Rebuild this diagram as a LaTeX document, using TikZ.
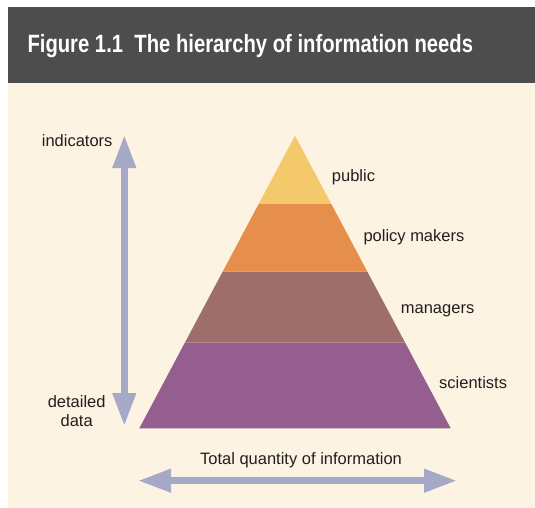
\documentclass[tikz,border=0pt]{standalone}
\usepackage{fontspec}
\setmainfont{Liberation Sans}
\newfontfamily\titlefont[FakeStretch=0.81]{Liberation Sans}
\usetikzlibrary{arrows.meta, calc}

\definecolor{barGray}{HTML}{4D4D4D}
\definecolor{paper}{HTML}{FCF3E3}
\definecolor{textDark}{HTML}{231F20}
\definecolor{arrowBlue}{HTML}{A5A8C7}
\definecolor{levelPublic}{HTML}{F4C96C}
\definecolor{levelPolicy}{HTML}{E68E4C}
\definecolor{levelManager}{HTML}{9E6E6C}
\definecolor{levelScience}{HTML}{945E8E}

\begin{document}
\begin{tikzpicture}[
        x=1pt, y=-1pt,
        label/.style={font=\fontsize{16.5}{19.5}\selectfont, text=textDark, inner sep=0pt},
        bigarrow/.style={{Triangle[width=22pt,length=33pt]}-{Triangle[width=22pt,length=33pt]}, line width=7pt, draw=arrowBlue}
    ]
        % Frame
        \useasboundingbox (0,0) rectangle (535,508);
        \fill[white] (0,0) rectangle (535,508);
        \fill[paper] (8,83) rectangle (535,508);
        \fill[barGray] (8,7) rectangle (535,83);
        \node[anchor=base west, inner sep=0pt, text=white, font=\titlefont\bfseries\fontsize{25}{30}\selectfont] (title) at (27.3,52.3) {Figure 1.1\ \ The hierarchy of information needs};

        % Pyramid
        \coordinate (apex) at (295,135.7);
        \coordinate (bl) at (139.3,428.3);
        \coordinate (br) at (450.7,428.3);
        \fill[levelScience] (bl) -- (br) -- ($(apex)!0.7074!(br)$) -- ($(apex)!0.7074!(bl)$) -- cycle;
        \fill[levelManager] ($(apex)!0.7074!(bl)$) -- ($(apex)!0.7074!(br)$) -- ($(apex)!0.4648!(br)$) -- ($(apex)!0.4648!(bl)$) -- cycle;
        \fill[levelPolicy] ($(apex)!0.4648!(bl)$) -- ($(apex)!0.4648!(br)$) -- ($(apex)!0.2334!(br)$) -- ($(apex)!0.2334!(bl)$) -- cycle;
        \fill[levelPublic] ($(apex)!0.2334!(bl)$) -- ($(apex)!0.2334!(br)$) -- (apex) -- cycle;

        % Nodes
        \node[label, anchor=base west] (public) at (331.7,181.5) {public};
        \node[label, anchor=base west] (policy) at (363.3,241.7) {policy makers};
        \node[label, anchor=base west] (managers) at (400.7,313.3) {managers};
        \node[label, anchor=base west] (scientists) at (439,388.3) {scientists};
        \node[label, anchor=base east] (indicators) at (112.7,146.7) {indicators};
        \node[label, align=center, anchor=base] (detailed) at (76.7,426.7) {detailed\\data};
        \node[label, anchor=base] (quantity) at (301,464.3) {Total quantity of information};

        % Arrows
        \coordinate (vtop) at (124.3,135);
        \coordinate (vbot) at (124.3,426);
        \coordinate (hleft) at (138,480.7);
        \coordinate (hright) at (457,480.7);
        \draw[bigarrow] (vtop) -- (vbot);
        \draw[bigarrow] (hleft) -- (hright);
    \end{tikzpicture}
\end{document}
